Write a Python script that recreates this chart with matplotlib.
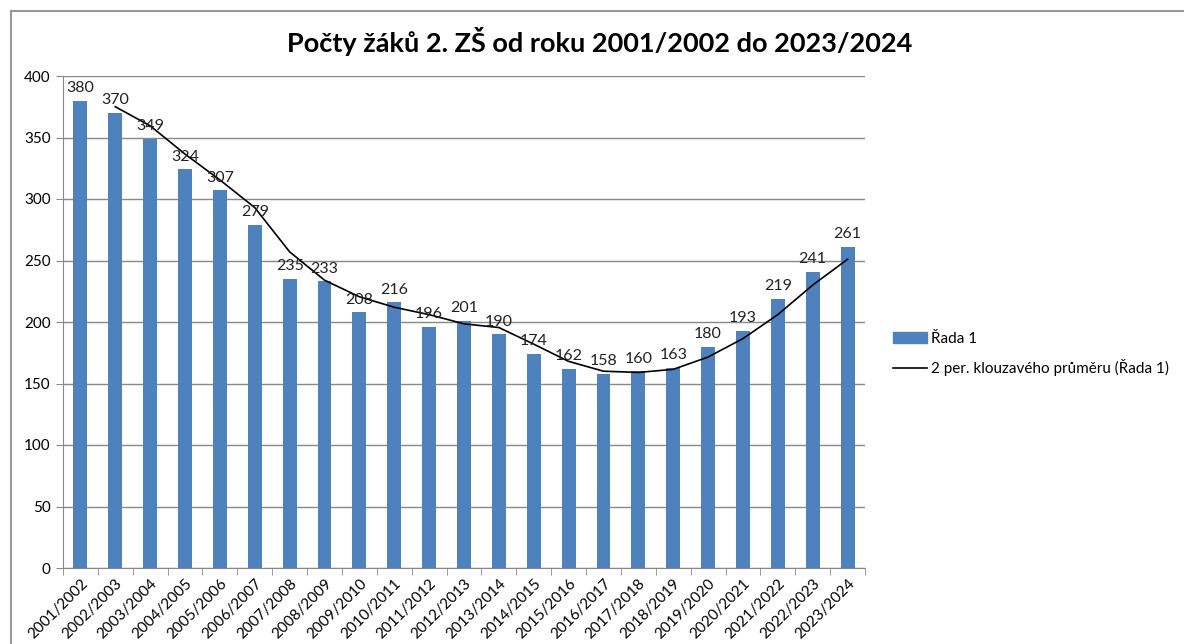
import matplotlib
matplotlib.use("Agg")
import matplotlib.pyplot as plt
from matplotlib.lines import Line2D
import numpy as np

years = ["2001/2002", "2002/2003", "2003/2004", "2004/2005", "2005/2006", "2006/2007",
         "2007/2008", "2008/2009", "2009/2010", "2010/2011", "2011/2012", "2012/2013",
         "2013/2014", "2014/2015", "2015/2016", "2016/2017", "2017/2018", "2018/2019",
         "2019/2020", "2020/2021", "2021/2022", "2022/2023", "2023/2024"]
pupils = [380, 370, 349, 324, 307, 279, 235, 233, 208, 216, 196, 201,
          190, 174, 162, 158, 160, 163, 180, 193, 219, 241, 261]

plt.rcParams['font.family'] = ['Lato', 'DejaVu Sans']

vals = np.array(pupils, dtype=float)
x = np.arange(len(years))
avg = (vals[1:] + vals[:-1]) / 2

fig = plt.figure(figsize=(11.84, 6.44), dpi=100)
ax = fig.add_axes([63 / 1184, 1 - 568 / 644, 802 / 1184, 492 / 644])

ax.bar(x, vals, width=0.4, color="#4f81bd", zorder=2)
ax.plot(x[1:], avg, color="black", lw=1.2, zorder=3)

for xi, v in zip(x, pupils):
    ax.annotate(str(v), (xi, v), xytext=(0, 4), textcoords="offset points",
                ha="center", va="bottom", fontsize=11.5, color="#222222")

ax.set_xlim(-0.5, len(years) - 0.5)
ax.set_ylim(0, 400)
ax.set_yticks(range(0, 401, 50))
ax.yaxis.grid(True, color="#888888", lw=1)
ax.set_axisbelow(True)

ax.set_xticks(x)
ax.set_xticklabels(years, rotation=45, ha="right", rotation_mode="anchor", fontsize=11)
ax.set_xticks(np.arange(-0.5, len(years)), minor=True)
ax.tick_params(axis="x", which="major", length=0, pad=6)
ax.tick_params(axis="x", which="minor", length=5, color="#888888")
ax.tick_params(axis="y", length=5, color="#888888", labelsize=11, pad=4)

for s in ["top", "right"]:
    ax.spines[s].set_visible(False)
for s in ["left", "bottom"]:
    ax.spines[s].set_color("#888888")

fig.text(600 / 1184, 1 - 42 / 644, "Počty žáků 2. ZŠ od roku 2001/2002 do 2023/2024",
         ha="center", va="center", fontsize=19.5, fontweight="bold")

handles = [plt.Rectangle((0, 0), 1, 1, color="#4f81bd"),
           Line2D([0], [0], color="black", lw=1.2)]
fig.legend(handles, ["Řada 1", "2 per. klouzavého průměru (Řada 1)"],
           loc="center left", bbox_to_anchor=(893 / 1184, 1 - 354 / 644),
           frameon=False, fontsize=11, handlelength=2.2, handletextpad=0.3,
           borderpad=0, borderaxespad=0, labelspacing=0.85)

# chart frame
fig.add_artist(Line2D([11 / 1184, 1], [1 - 11 / 644, 1 - 11 / 644], color="#999999", lw=1.5))
fig.add_artist(Line2D([11 / 1184, 11 / 1184], [0, 1 - 11 / 644], color="#999999", lw=1.5))

fig.savefig("out.png", dpi=100)
